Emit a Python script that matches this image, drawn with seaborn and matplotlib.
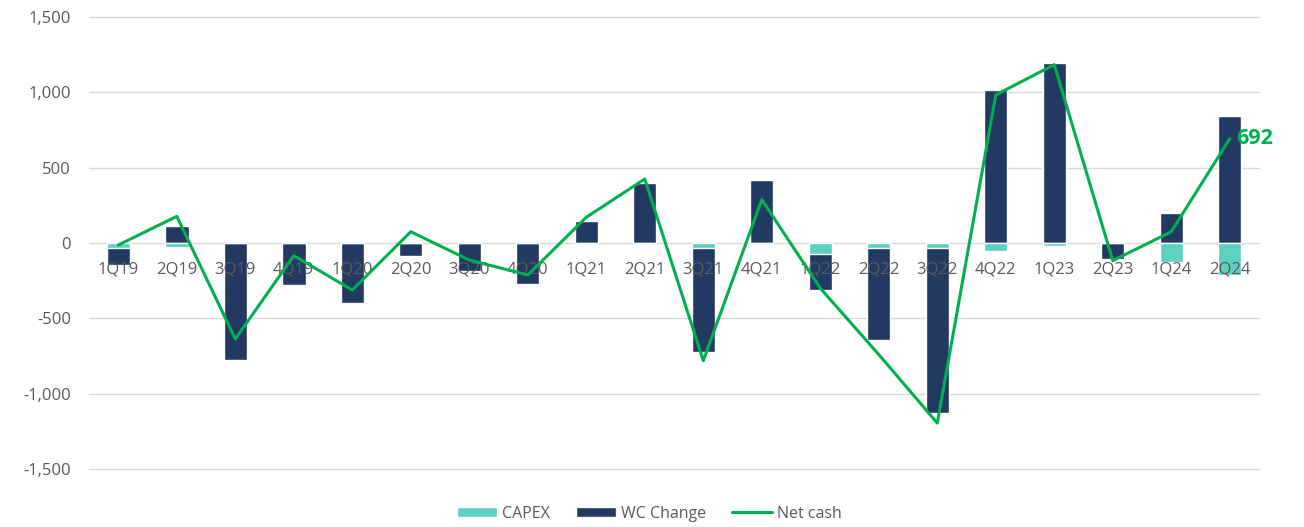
import numpy as np
import pandas as pd
import matplotlib
matplotlib.use('Agg')
import matplotlib.pyplot as plt
from matplotlib.patches import Patch
from matplotlib.lines import Line2D
from matplotlib.ticker import FuncFormatter
import seaborn as sns

quarters = ['1Q19', '2Q19', '3Q19', '4Q19', '1Q20', '2Q20', '3Q20', '4Q20',
            '1Q21', '2Q21', '3Q21', '4Q21', '1Q22', '2Q22', '3Q22', '4Q22',
            '1Q23', '2Q23', '1Q24', '2Q24']
capex = [-33, -25, 0, 0, 0, 0, 0, 0,
         0, 0, -35, 0, -73, -30, -30, -50,
         -22, 0, -128, -212]
wc_change = [-110, 111, -777, -277, -400, -84, -188, -272,
             146, 396, -691, 416, -237, -612, -1100, 1018,
             1197, -106, 197, 845]
net_cash = [-13, 177, -637, -84, -312, 75, -113, -212,
            171, 425, -781, 288, -300, -740, -1195, 983,
            1184, -117, 75, 692]
yticks = [-1500, -1000, -500, 0, 500, 1000, 1500]

CAPEX_C = '#5DD0BF'
WC_C = '#223962'
NET_C = '#00B050'
TXT_C = '#595959'
GRID_C = '#D9D9D9'

sns.set_style('white')
plt.rcParams['font.family'] = ['Open Sans', 'DejaVu Sans']

df = pd.DataFrame({'quarter': quarters, 'capex': capex,
                   'wc': wc_change, 'net': net_cash})
# stacked look: negative WC sits below CAPEX, so draw the full extent first
df['wc_extent'] = np.where(df['wc'] < 0, df['wc'] + df['capex'], df['wc'])
df['pos'] = np.arange(len(df))

fig = plt.figure(figsize=(13.04, 5.27), dpi=100)
ax = fig.add_axes([0.0683, 0.110, 0.8972, 0.8577])

# gridlines by hand so the tick labels can still sit above the bars
for y in yticks:
    ax.axhline(y, color=GRID_C, linewidth=1, zorder=0, clip_on=False)

sns.barplot(data=df, x='quarter', y='wc_extent', color=WC_C, width=0.4,
            saturation=1, ax=ax, zorder=1)
sns.barplot(data=df, x='quarter', y='capex', color=CAPEX_C, width=0.4,
            saturation=1, ax=ax, zorder=1)
sns.lineplot(data=df, x='pos', y='net', color=NET_C, linewidth=2.2,
             ax=ax, zorder=3)

ax.annotate('{:,}'.format(net_cash[-1]), xy=(df['pos'].iloc[-1], net_cash[-1]),
            xytext=(5, 0), textcoords='offset points', va='center', ha='left',
            color=NET_C, fontsize=15.5, fontweight='bold')

ax.set_xlim(-0.5, len(quarters) - 0.5)
ax.set_ylim(-1500, 1500)
ax.set_yticks(yticks)
ax.yaxis.set_major_formatter(FuncFormatter(lambda v, p: '{:,.0f}'.format(v)))
ax.set_xticks(np.arange(len(quarters)))
ax.set_xticklabels(quarters)
ax.grid(False)
ax.set_axisbelow(False)
ax.set_xlabel('')
ax.set_ylabel('')

for s in ['top', 'right', 'left', 'bottom']:
    ax.spines[s].set_visible(False)
ax.spines['bottom'].set_position(('data', 0))

ax.tick_params(axis='x', length=0, pad=13, labelsize=12, colors=TXT_C)
ax.tick_params(axis='y', length=0, pad=13, labelsize=12, colors=TXT_C)

handles = [Patch(facecolor=CAPEX_C, label='CAPEX'),
           Patch(facecolor=WC_C, label='WC Change'),
           Line2D([0], [0], color=NET_C, linewidth=2.2, label='Net cash')]
leg = fig.legend(handles=handles, loc='center', bbox_to_anchor=(0.498, 0.025),
                 ncol=3, frameon=False, fontsize=11.5, handlelength=2.5,
                 handleheight=0.6, columnspacing=1.6, handletextpad=0.35)
for t in leg.get_texts():
    t.set_color(TXT_C)

fig.savefig('out.png', dpi=100)
plt.close(fig)
